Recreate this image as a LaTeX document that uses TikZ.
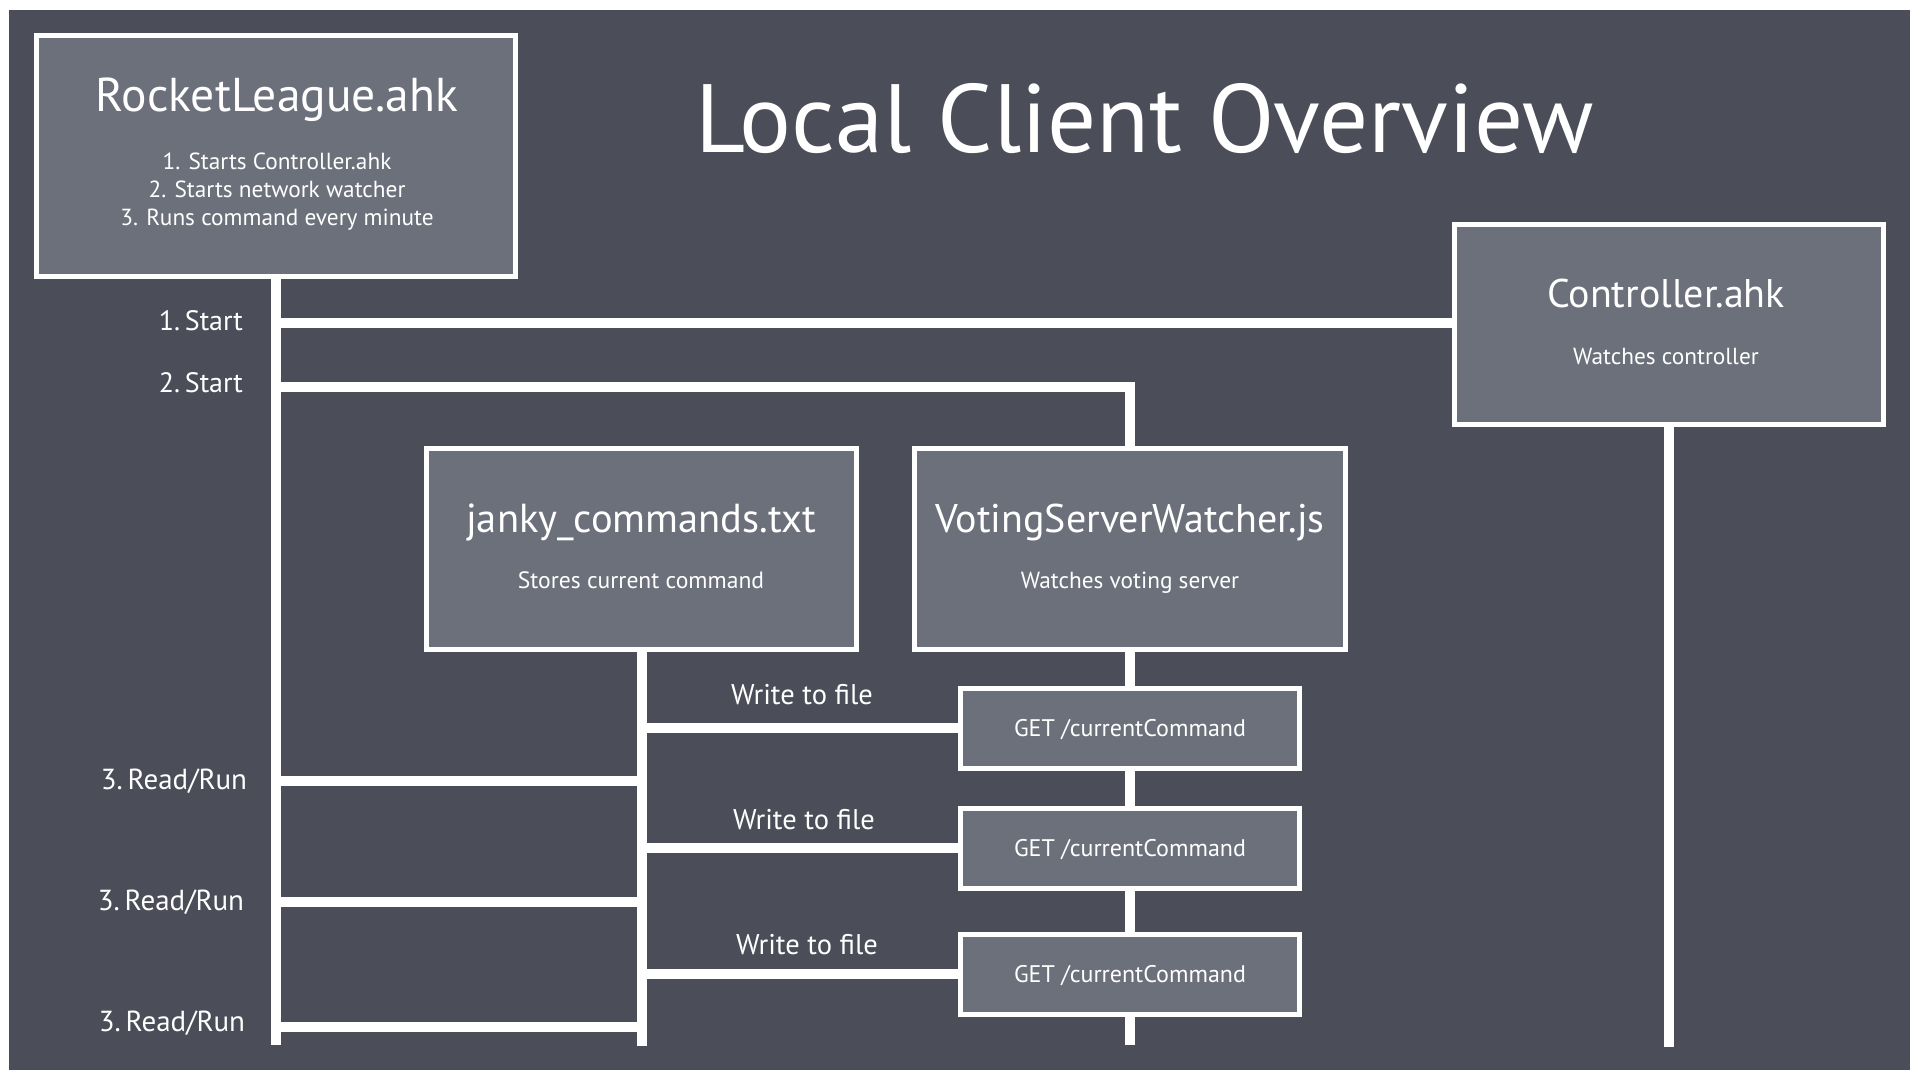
\documentclass[tikz,border=0pt]{standalone}
\usepackage{fontspec}
\setmainfont{PT Sans}
\definecolor{bgdark}{RGB}{75,78,88}
\definecolor{boxfill}{RGB}{108,112,123}
\begin{document}
\begin{tikzpicture}[x=1pt,y=-1pt,
  box/.style={draw=white,line width=5pt,fill=boxfill,inner sep=0pt,outer sep=0pt},
  wire/.style={draw=white,line width=10pt,line join=miter},
  txt/.style={text=white,inner sep=0pt,outer sep=0pt,anchor=base},
  fs/.style={font=\fontsize{#1}{#1}\selectfont}
]
\useasboundingbox (0,0) rectangle (1920,1080);
\fill[white] (0,0) rectangle (1920,1080);
\fill[bgdark] (9,10) rectangle (1910,1070);

% boxes
\node[box,minimum width=479pt,minimum height=241pt] (rl) at (276,156) {};
\node[box,minimum width=429pt,minimum height=200pt] (ctrl) at (1669,324.5) {};
\node[box,minimum width=430pt,minimum height=201pt] (janky) at (641.5,549) {};
\node[box,minimum width=431pt,minimum height=201pt] (vote) at (1130,549) {};
\node[box,minimum width=339pt,minimum height=80pt] (get1) at (1130,728) {};
\node[box,minimum width=339pt,minimum height=80pt] (get2) at (1130,848) {};
\node[box,minimum width=339pt,minimum height=80pt] (get3) at (1130,974) {};

% junction / end coordinates
\coordinate (mainEnd) at (276,1045);
\coordinate (s1) at (276,323);
\coordinate (s2) at (276,387);
\coordinate (r1) at (276,781);
\coordinate (r2) at (276,902);
\coordinate (r3) at (276,1027);
\coordinate (ctrlEnd) at (1669,1047);
\coordinate (voteEnd) at (1130,1045);
\coordinate (jankyEnd) at (641.5,1046);
\coordinate (w1) at (641.5,728);
\coordinate (w2) at (641.5,848);
\coordinate (w3) at (641.5,974);

% connectors
\draw[wire] (rl.south) -- (mainEnd);
\draw[wire] (s1) -- (s1 -| ctrl.west);
\draw[wire] (s2) -| (vote.north);
\draw[wire] (ctrl.south) -- (ctrlEnd);
\draw[wire] (vote.south) -- (get1.north);
\draw[wire] (get1.south) -- (get2.north);
\draw[wire] (get2.south) -- (get3.north);
\draw[wire] (get3.south) -- (voteEnd);
\draw[wire] (janky.south) -- (jankyEnd);
\draw[wire] (r1) -- (r1 -| janky.south);
\draw[wire] (r2) -- (r2 -| janky.south);
\draw[wire] (r3) -- (r3 -| janky.south);
\draw[wire] (w1) -- (get1.west);
\draw[wire] (w2) -- (get2.west);
\draw[wire] (w3) -- (get3.west);

% texts
\node[txt,fs=97] (title) at (1144.5,152) {Local Client Overview};
\node[txt,fs=47.5] (rlT) at (277,111) {RocketLeague.ahk};
\node[txt,fs=23.3] (rl1) at (277,169) {1. Starts Controller.ahk};
\node[txt,fs=23.3] (rl2) at (277,197) {2. Starts network watcher};
\node[txt,fs=23.3] (rl3) at (277,225) {3. Runs command every minute};
\node[txt,fs=40] (ctrlT) at (1666,307) {Controller.ahk};
\node[txt,fs=23.3] (ctrlS) at (1666,364) {Watches controller};
\node[txt,fs=40.5] (jankyT) at (641,532) {janky\_commands.txt};
\node[txt,fs=23.6] (jankyS) at (641,588) {Stores current command};
\node[txt,fs=40] (voteT) at (1130,532) {VotingServerWatcher.js};
\node[txt,fs=23.3] (voteS) at (1130,588) {Watches voting server};
\node[txt,fs=24] (g1) at (1130,736) {GET /currentCommand};
\node[txt,fs=24] (g2) at (1130,856) {GET /currentCommand};
\node[txt,fs=24] (g3) at (1130,982) {GET /currentCommand};
\node[txt,fs=28,anchor=base east] (l1) at (243,330) {1.\,Start};
\node[txt,fs=28,anchor=base east] (l2) at (243,392) {2.\,Start};
\node[txt,fs=29,anchor=base east] (l3) at (247,789) {3.\,Read/Run};
\node[txt,fs=29,anchor=base east] (l4) at (244,910) {3.\,Read/Run};
\node[txt,fs=29,anchor=base east] (l5) at (245,1031) {3.\,Read/Run};
\node[txt,fs=28.5] (wt1) at (802,704) {Write to file};
\node[txt,fs=28.5] (wt2) at (804,829) {Write to file};
\node[txt,fs=28.5] (wt3) at (807,954) {Write to file};
\end{tikzpicture}
\end{document}
